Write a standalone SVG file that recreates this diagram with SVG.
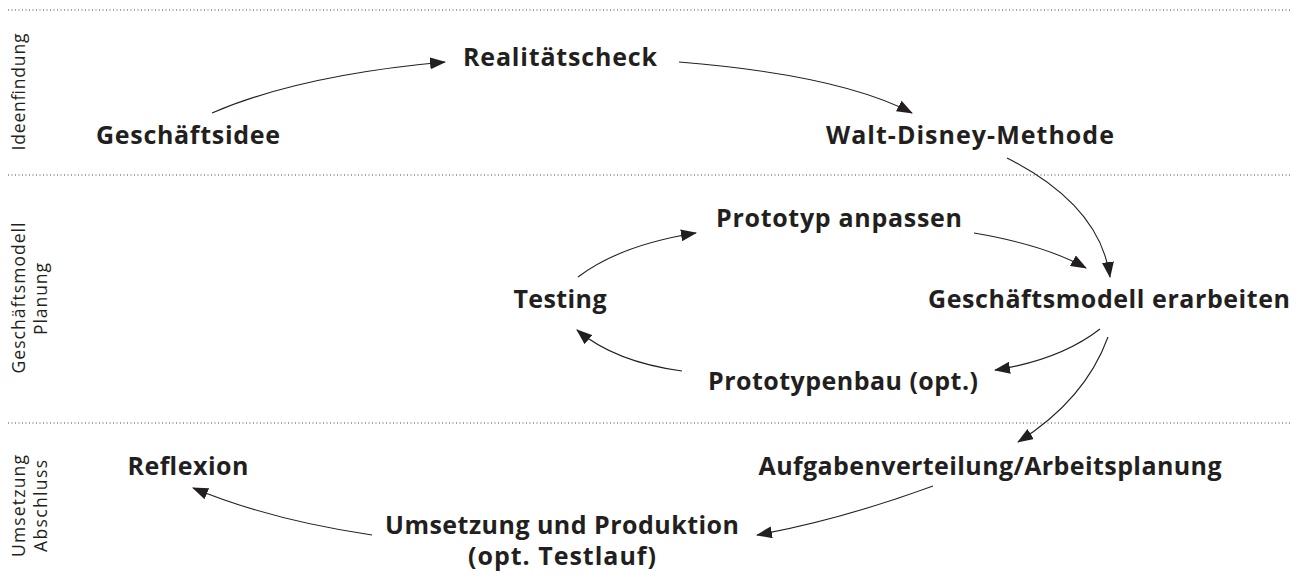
<svg xmlns="http://www.w3.org/2000/svg" width="1295" height="583" viewBox="0 0 1295 583">
<style>
.node{font-family:"Open Sans","Liberation Sans",sans-serif;font-weight:700;font-size:25px;fill:#231f20;text-anchor:middle}
.lane{font-family:"Open Sans","Liberation Sans",sans-serif;font-weight:400;font-size:17.5px;fill:#231f20;text-anchor:middle}
.sep{stroke:#444;stroke-width:1;stroke-dasharray:1 2.5;fill:none}
.conn path{fill:none;stroke:#231f20;stroke-width:1.1}
</style>
<defs>
<marker id="arr" markerUnits="userSpaceOnUse" markerWidth="16" markerHeight="12" viewBox="0 0 16 12" refX="15" refY="6" orient="auto">
<path d="M0,0 L16,6 L0,12 Z" fill="#231f20"/>
</marker>
</defs>
<rect width="1295" height="583" fill="#fff"/>
<g id="separators">
<line class="sep" x1="8" y1="10" x2="1290" y2="10"/>
<line class="sep" x1="8" y1="175" x2="1290" y2="175"/>
<line class="sep" x1="8" y1="423" x2="1290" y2="423"/>
</g>
<g id="lanes">
<text class="lane" transform="translate(25,92) rotate(-90)" textLength="117">Ideenfindung</text>
<text class="lane" transform="translate(25,298) rotate(-90)" textLength="151">Geschäftsmodell</text>
<text class="lane" transform="translate(47,299) rotate(-90)" textLength="72">Planung</text>
<text class="lane" transform="translate(25,506) rotate(-90)" textLength="102">Umsetzung</text>
<text class="lane" transform="translate(47,506) rotate(-90)" textLength="92">Abschluss</text>
</g>
<g id="n-geschaeftsidee"><text class="node" x="188" y="144" textLength="184">Geschäftsidee</text></g>
<g id="n-realitaetscheck"><text class="node" x="560" y="66" textLength="194">Realitätscheck</text></g>
<g id="n-waltdisney"><text class="node" x="970" y="144" textLength="288">Walt-Disney-Methode</text></g>
<g id="n-prototypanpassen"><text class="node" x="839" y="227" textLength="246">Prototyp anpassen</text></g>
<g id="n-testing"><text class="node" x="560" y="308" textLength="93">Testing</text></g>
<g id="n-geschaeftsmodell"><text class="node" x="1109" y="308" textLength="362">Geschäftsmodell erarbeiten</text></g>
<g id="n-prototypenbau"><text class="node" x="843" y="390" textLength="270">Prototypenbau (opt.)</text></g>
<g id="n-reflexion"><text class="node" x="188" y="475" textLength="121">Reflexion</text></g>
<g id="n-aufgaben"><text class="node" x="990" y="475" textLength="463">Aufgabenverteilung/Arbeitsplanung</text></g>
<g id="n-umsetzung">
<text class="node"><tspan x="562" y="534" textLength="354">Umsetzung und Produktion</tspan><tspan x="562" y="565" textLength="188">(opt. Testlauf)</tspan></text>
</g>
<g id="connectors" class="conn">
<path d="M212,113 Q300,75 445,62" marker-end="url(#arr)"/>
<path d="M679,62 Q840,75 912,113" marker-end="url(#arr)"/>
<path d="M1007,158 Q1100,205 1110,277" marker-end="url(#arr)"/>
<path d="M974,233 Q1045,245 1086,268" marker-end="url(#arr)"/>
<path d="M1100,329 Q1060,360 995,370" marker-end="url(#arr)"/>
<path d="M1108,337 Q1085,400 1018,442" marker-end="url(#arr)"/>
<path d="M682,371 Q615,362 577,330" marker-end="url(#arr)"/>
<path d="M578,277 Q620,245 696,233" marker-end="url(#arr)"/>
<path d="M933,486 Q840,520 757,535" marker-end="url(#arr)"/>
<path d="M372,535 Q270,520 193,488" marker-end="url(#arr)"/>
</g>
</svg>
